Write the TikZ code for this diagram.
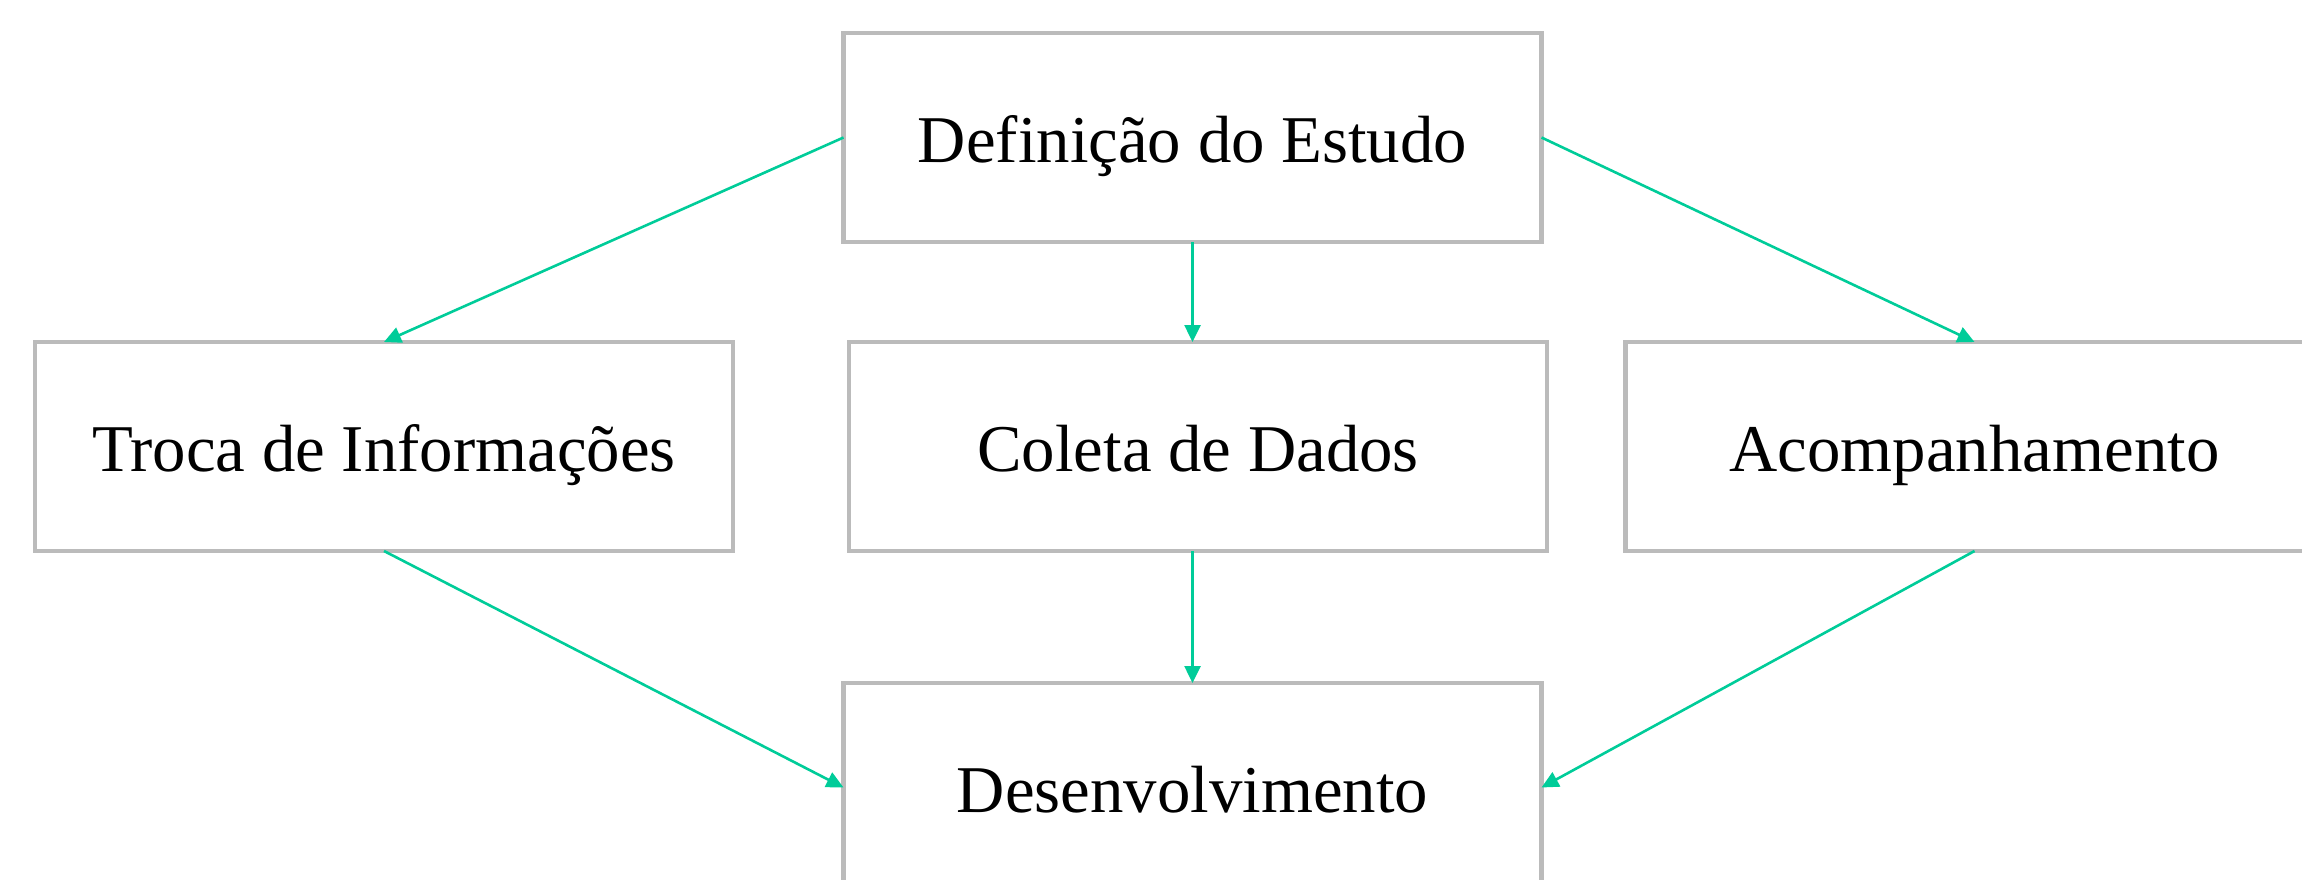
\documentclass[tikz,border=0pt]{standalone}
\usepackage{fontspec}
\setmainfont{Liberation Serif}
\usetikzlibrary{arrows.meta}
\definecolor{boxgray}{HTML}{BBBBBB}
\definecolor{arrgreen}{HTML}{00CC99}
\tikzset{
  stagebox/.style={draw=boxgray, line width=4.8bp, fill=white, rectangle,
    minimum width=698bp, minimum height=209bp, inner sep=0pt, outer sep=0pt,
    text height=50bp, text depth=0bp,
    font=\fontsize{66.8bp}{80bp}\selectfont},
  flow/.style={draw=arrgreen, line width=2.6bp,
    -{Triangle[length=17bp,width=16bp]}}
}
\begin{document}
\begin{tikzpicture}[x=1bp,y=-1bp]
\useasboundingbox (0,0) rectangle (2302,879);
\node[stagebox] (def) at (1192.5,137.5) {Definição do Estudo};
\node[stagebox] (troca) at (384,446.5) {Troca de Informações};
\node[stagebox] (coleta) at (1198,446.5) {Coleta de Dados};
\node[stagebox] (acomp) at (1974.5,446.5) {Acompanhamento};
\node[stagebox] (desenv) at (1192.5,787.5) {Desenvolvimento};
\draw[flow] (def.west) -- (troca.north);
\draw[flow] (def.south) -- (def.south |- coleta.north);
\draw[flow] (def.east) -- (acomp.north);
\draw[flow] (troca.south) -- (desenv.west);
\draw[flow] (coleta.south -| def.south) -- (desenv.north);
\draw[flow] (acomp.south) -- (desenv.east);
\end{tikzpicture}
\end{document}
